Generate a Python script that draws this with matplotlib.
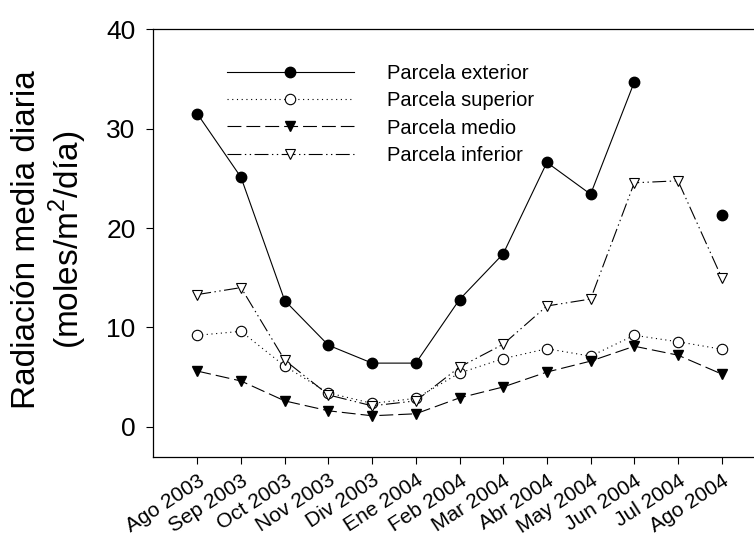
import numpy as np
import matplotlib
matplotlib.use("Agg")
import matplotlib.pyplot as plt

plt.rcParams["font.family"] = ["Liberation Sans", "DejaVu Sans"]
plt.rcParams["mathtext.fontset"] = "custom"
plt.rcParams["mathtext.rm"] = "Liberation Sans"
plt.rcParams["lines.scale_dashes"] = False

# Monthly mean daily radiation per plot
months = ["Ago 2003", "Sep 2003", "Oct 2003", "Nov 2003", "Div 2003", "Ene 2004",
          "Feb 2004", "Mar 2004", "Abr 2004", "May 2004", "Jun 2004", "Jul 2004",
          "Ago 2004"]
exterior = [31.5, 25.1, 12.7, 8.2, 6.4, 6.4, 12.8, 17.4, 26.6, 23.4, 34.7, np.nan, 21.3]
superior = [9.2, 9.6, 6.1, 3.4, 2.35, 2.85, 5.4, 6.85, 7.85, 7.1, 9.2, 8.55, 7.8]
medio = [5.6, 4.6, 2.6, 1.6, 1.1, 1.3, 2.9, 4.0, 5.5, 6.6, 8.1, 7.2, 5.3]
inferior = [13.3, 14.0, 6.7, 3.2, 2.1, 2.6, 6.0, 8.3, 12.15, 12.85, 24.55, 24.75, 15.0]
series_labels = ["Parcela exterior", "Parcela superior", "Parcela medio", "Parcela inferior"]
y_ticks = [0, 10, 20, 30, 40]

W, H = 754, 538
fig = plt.figure(figsize=(W / 100, H / 100), dpi=100)
unit = 43.7
left_px, bottom_px, top_px = 153.3, 457.3, 29.3
xmin, xmax = -1.007, 14
ax = fig.add_axes([left_px / W, (H - bottom_px) / H,
                   (xmax - xmin) * unit / W, (bottom_px - top_px) / H])

x = np.arange(len(months))
lw = 0.8
ms = 7.5
ax.plot(x, exterior, color="k", lw=lw, ls="-", marker="o", ms=ms,
        mfc="k", mec="k", label=series_labels[0])
ax.plot(x, superior, color="k", lw=lw, ls=(0, (0.8, 2.6)), marker="o", ms=ms,
        mfc="white", mec="k", mew=0.8, label=series_labels[1])
ax.plot(x, medio, color="k", lw=lw, ls=(0, (10, 3.6)), marker="v", ms=ms,
        mfc="k", mec="k", label=series_labels[2])
ax.plot(x, inferior, color="k", lw=lw, ls=(0, (10, 2.5, 1, 2.5, 1, 2.5)), marker="v",
        ms=ms, mfc="white", mec="k", mew=0.8, label=series_labels[3])

ax.set_xlim(xmin, xmax)
ax.set_ylim(-3.08, 40)
ax.set_yticks(y_ticks)
ax.set_xticks(x)
ax.set_xticklabels(months, rotation=33, ha="right", rotation_mode="anchor", fontsize=15)
ax.tick_params(axis="y", direction="out", length=4.8, width=0.8, pad=8, labelsize=19)
ax.tick_params(axis="x", direction="out", length=4.8, width=0.8, pad=5)
for side in ["left", "bottom", "top"]:
    ax.spines[side].set_linewidth(0.9)
ax.spines["right"].set_visible(False)

leg = ax.legend(loc="upper left", bbox_to_anchor=(226.7 / W, 1 - 64 / H),
                bbox_transform=fig.transFigure, frameon=False, fontsize=14.5,
                handlelength=6.3, handletextpad=1.66, labelspacing=0.41,
                borderpad=0, borderaxespad=0, numpoints=1)

fig.text(50 / W, 1 - 240 / H, "Radiación media diaria\n(moles/m$^{\\mathregular{2}}$/día)",
         rotation=90, ha="center", va="center", fontsize=24, linespacing=1.15,
         multialignment="center")

fig.savefig("out.png", dpi=100)
